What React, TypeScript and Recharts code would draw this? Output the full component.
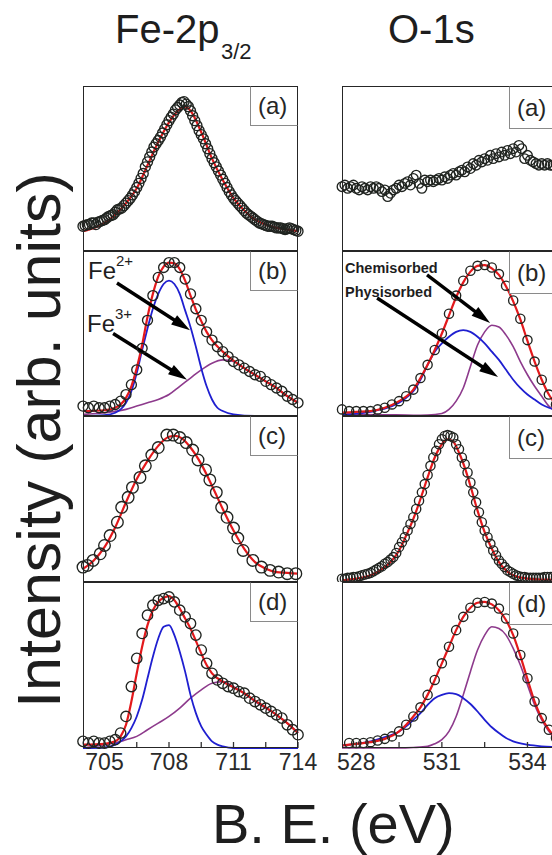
import React from 'react';
import { ComposedChart, Line, XAxis, YAxis, ReferenceLine } from 'recharts';

type P = [number, number];

// ---------- axes ----------
const feDomain: [number, number] = [704, 714];
const oDomain: [number, number] = [527.5, 535];
const feTicks = [705, 706.5, 708, 709.5, 711, 712.5, 714];
const feTickLabels = [705, 708, 711, 714];
const oTicks = [528, 529.5, 531, 532.5, 534];
const oTickLabels = [528, 531, 534];
const panelLabels = ['(a)', '(b)', '(c)', '(d)'];

// ---------- Fe-2p3/2 ----------
const feA_pts: P[] = [[704.0,0.15],[704.1,0.155],[704.2,0.16],[704.3,0.16],[704.4,0.17],[704.5,0.17],[704.6,0.16],[704.7,0.175],[704.8,0.18],[704.9,0.185],[705.0,0.19],[705.1,0.2],[705.2,0.21],[705.3,0.215],[705.4,0.22],[705.5,0.235],[705.6,0.25],[705.7,0.255],[705.8,0.26],[705.9,0.275],[706.0,0.29],[706.1,0.305],[706.2,0.32],[706.3,0.34],[706.4,0.36],[706.5,0.385],[706.6,0.41],[706.7,0.44],[706.8,0.47],[706.9,0.51],[707.0,0.54],[707.1,0.57],[707.2,0.60],[707.3,0.63],[707.4,0.65],[707.5,0.67],[707.6,0.69],[707.7,0.715],[707.8,0.74],[707.9,0.765],[708.0,0.79],[708.1,0.81],[708.2,0.83],[708.3,0.855],[708.4,0.87],[708.5,0.885],[708.6,0.90],[708.7,0.905],[708.8,0.89],[708.9,0.875],[709.0,0.85],[709.1,0.82],[709.2,0.79],[709.3,0.76],[709.4,0.73],[709.5,0.705],[709.6,0.68],[709.7,0.65],[709.8,0.62],[709.9,0.59],[710.0,0.56],[710.1,0.535],[710.2,0.51],[710.3,0.485],[710.4,0.46],[710.5,0.435],[710.6,0.41],[710.7,0.385],[710.8,0.36],[710.9,0.34],[711.0,0.32],[711.1,0.305],[711.2,0.29],[711.3,0.275],[711.4,0.26],[711.5,0.245],[711.6,0.23],[711.7,0.22],[711.8,0.21],[711.9,0.20],[712.0,0.19],[712.1,0.18],[712.2,0.17],[712.3,0.165],[712.4,0.16],[712.5,0.155],[712.6,0.15],[712.7,0.15],[712.8,0.15],[712.9,0.145],[713.0,0.14],[713.1,0.14],[713.2,0.14],[713.3,0.135],[713.4,0.13],[713.5,0.135],[713.6,0.14],[713.7,0.135],[713.8,0.13],[713.9,0.125],[714.0,0.12]];
const feA_fit: P[] = [[704.0,0.12],[704.5,0.14],[705.0,0.17],[705.5,0.22],[706.0,0.29],[706.5,0.38],[707.0,0.52],[707.5,0.66],[708.0,0.78],[708.5,0.86],[708.75,0.875],[709.0,0.85],[709.5,0.72],[710.0,0.56],[710.5,0.43],[711.0,0.32],[711.5,0.245],[712.0,0.19],[712.5,0.16],[713.0,0.14],[713.5,0.13],[714.0,0.12]];

const feB_pts: P[] = [[704.0,0.06],[704.25,0.05],[704.5,0.06],[704.75,0.05],[705.0,0.05],[705.25,0.06],[705.5,0.07],[705.75,0.09],[706.0,0.13],[706.25,0.19],[706.5,0.28],[706.75,0.41],[707.0,0.58],[707.25,0.73],[707.5,0.84],[707.75,0.90],[708.0,0.93],[708.25,0.93],[708.5,0.90],[708.75,0.83],[709.0,0.74],[709.25,0.65],[709.5,0.58],[709.75,0.51],[710.0,0.46],[710.25,0.42],[710.5,0.39],[710.75,0.36],[711.0,0.33],[711.25,0.31],[711.5,0.29],[711.75,0.27],[712.0,0.25],[712.25,0.24],[712.5,0.21],[712.75,0.19],[713.0,0.17],[713.25,0.15],[713.5,0.12],[713.75,0.10],[714.0,0.08]];
const feB_fit: P[] = [[704.0,0.03],[705.0,0.035],[705.5,0.05],[706.0,0.11],[706.25,0.18],[706.5,0.29],[706.75,0.43],[707.0,0.60],[707.25,0.74],[707.5,0.845],[707.75,0.905],[708.0,0.93],[708.25,0.925],[708.5,0.89],[708.75,0.82],[709.0,0.73],[709.25,0.645],[709.5,0.575],[709.75,0.51],[710.0,0.46],[710.5,0.39],[711.0,0.335],[711.5,0.29],[712.0,0.25],[712.5,0.21],[713.0,0.17],[713.5,0.12],[714.0,0.08]];
const feB_fe2: P[] = [[704.0,0],[705.0,0.005],[705.5,0.02],[705.75,0.04],[706.0,0.08],[706.25,0.15],[706.5,0.26],[706.75,0.40],[707.0,0.53],[707.25,0.65],[707.5,0.74],[707.75,0.80],[708.0,0.82],[708.25,0.80],[708.5,0.74],[708.75,0.64],[709.0,0.54],[709.25,0.42],[709.5,0.29],[709.75,0.18],[710.0,0.10],[710.25,0.05],[710.5,0.03],[711.0,0.01],[712.0,0],[714.0,0]];
const feB_fe3: P[] = [[704.0,0.01],[705.0,0.02],[706.0,0.04],[706.5,0.06],[707.0,0.08],[707.5,0.10],[708.0,0.13],[708.5,0.18],[709.0,0.23],[709.5,0.28],[710.0,0.32],[710.5,0.34],[711.0,0.33],[711.5,0.29],[712.0,0.25],[712.5,0.21],[713.0,0.17],[713.5,0.12],[714.0,0.08]];

const feC_pts: P[] = [[704.0,0.09],[704.2,0.10],[704.47,0.13],[704.8,0.17],[705.0,0.22],[705.26,0.28],[705.6,0.36],[705.8,0.45],[706.1,0.51],[706.3,0.57],[706.65,0.63],[706.9,0.70],[707.2,0.765],[707.5,0.81],[707.9,0.885],[708.2,0.885],[708.5,0.87],[708.8,0.84],[709.1,0.795],[709.35,0.735],[709.7,0.675],[709.9,0.615],[710.2,0.54],[710.45,0.45],[710.7,0.39],[711.0,0.325],[711.2,0.265],[711.45,0.19],[711.9,0.13],[712.3,0.09],[712.7,0.07],[713.1,0.06],[713.5,0.05],[713.9,0.05]];
const feC_fit: P[] = [[704.0,0.08],[704.5,0.13],[705.0,0.21],[705.5,0.33],[706.0,0.48],[706.5,0.62],[707.0,0.73],[707.5,0.82],[708.0,0.875],[708.3,0.88],[708.6,0.865],[709.0,0.81],[709.5,0.71],[710.0,0.58],[710.5,0.44],[711.0,0.31],[711.5,0.20],[712.0,0.12],[712.5,0.08],[713.0,0.06],[713.5,0.055],[714.0,0.05]];

const feD_pts: P[] = [[704.0,0.04],[704.25,0.03],[704.5,0.04],[704.75,0.03],[705.0,0.03],[705.25,0.04],[705.5,0.05],[705.75,0.09],[706.0,0.19],[706.25,0.37],[706.5,0.54],[706.75,0.69],[707.0,0.80],[707.25,0.86],[707.5,0.89],[707.75,0.90],[708.0,0.91],[708.25,0.88],[708.5,0.83],[708.75,0.79],[709.0,0.75],[709.25,0.68],[709.5,0.59],[709.75,0.51],[710.0,0.45],[710.25,0.41],[710.5,0.39],[710.75,0.37],[711.0,0.36],[711.25,0.34],[711.5,0.33],[711.75,0.30],[712.0,0.28],[712.25,0.26],[712.5,0.24],[712.75,0.22],[713.0,0.20],[713.25,0.18],[713.5,0.14],[713.75,0.11],[714.0,0.08]];
const feD_fit: P[] = [[704.0,0.02],[705.0,0.025],[705.5,0.04],[705.75,0.07],[706.0,0.14],[706.25,0.28],[706.5,0.45],[706.75,0.61],[707.0,0.74],[707.25,0.83],[707.5,0.88],[707.75,0.905],[708.0,0.915],[708.25,0.89],[708.5,0.84],[708.75,0.78],[709.0,0.72],[709.25,0.645],[709.5,0.57],[709.75,0.50],[710.0,0.45],[710.5,0.40],[711.0,0.365],[711.5,0.33],[712.0,0.285],[712.5,0.245],[713.0,0.20],[713.5,0.15],[714.0,0.09]];
const feD_fe2: P[] = [[704.0,0],[705.0,0.003],[705.5,0.02],[705.75,0.04],[706.0,0.07],[706.25,0.12],[706.5,0.19],[706.75,0.29],[707.0,0.42],[707.25,0.55],[707.5,0.66],[707.75,0.73],[708.0,0.74],[708.25,0.68],[708.5,0.58],[708.75,0.46],[709.0,0.32],[709.25,0.21],[709.5,0.13],[709.75,0.08],[710.0,0.04],[710.25,0.02],[710.5,0.01],[711.0,0],[714.0,0]];
const feD_fe3: P[] = [[704.0,0.0],[705.0,0.02],[705.5,0.03],[706.0,0.05],[706.5,0.07],[707.0,0.11],[707.5,0.15],[708.0,0.19],[708.5,0.24],[709.0,0.30],[709.5,0.35],[710.0,0.39],[710.5,0.40],[711.0,0.37],[711.5,0.33],[712.0,0.28],[712.5,0.24],[713.0,0.20],[713.5,0.15],[714.0,0.09]];

// ---------- O-1s ----------
const oA_pts: P[] = [[527.5,0.39],[527.6,0.40],[527.7,0.38],[527.8,0.39],[527.9,0.40],[528.0,0.38],[528.1,0.37],[528.2,0.39],[528.3,0.38],[528.4,0.37],[528.5,0.39],[528.6,0.38],[528.7,0.39],[528.8,0.38],[528.9,0.36],[529.0,0.37],[529.1,0.33],[529.2,0.35],[529.3,0.37],[529.4,0.38],[529.5,0.40],[529.6,0.39],[529.7,0.41],[529.8,0.42],[529.9,0.40],[530.0,0.44],[530.1,0.46],[530.2,0.41],[530.3,0.38],[530.4,0.43],[530.5,0.42],[530.6,0.43],[530.7,0.42],[530.8,0.43],[530.9,0.44],[531.0,0.43],[531.1,0.45],[531.2,0.44],[531.3,0.46],[531.4,0.47],[531.5,0.46],[531.6,0.48],[531.7,0.49],[531.8,0.48],[531.9,0.51],[532.0,0.50],[532.1,0.53],[532.2,0.52],[532.3,0.55],[532.4,0.54],[532.5,0.56],[532.6,0.55],[532.7,0.58],[532.8,0.56],[532.9,0.59],[533.0,0.57],[533.1,0.60],[533.2,0.58],[533.3,0.61],[533.4,0.59],[533.5,0.62],[533.6,0.60],[533.7,0.64],[533.8,0.62],[533.9,0.56],[534.0,0.58],[534.1,0.55],[534.2,0.54],[534.3,0.53],[534.4,0.52],[534.5,0.53],[534.6,0.52],[534.7,0.53],[534.8,0.52],[534.9,0.52],[535.0,0.53]];

const oB_pts: P[] = [[527.5,0.04],[527.75,0.03],[528.0,0.03],[528.25,0.03],[528.5,0.03],[528.75,0.04],[529.0,0.05],[529.25,0.07],[529.5,0.09],[529.75,0.12],[530.0,0.16],[530.25,0.23],[530.5,0.31],[530.75,0.40],[531.0,0.50],[531.25,0.62],[531.5,0.73],[531.75,0.82],[532.0,0.88],[532.25,0.91],[532.5,0.915],[532.75,0.90],[533.0,0.86],[533.25,0.79],[533.5,0.70],[533.75,0.59],[534.0,0.46],[534.25,0.33],[534.5,0.22],[534.75,0.13],[535.0,0.07]];
const oB_fit: P[] = [[527.5,0.02],[528.0,0.025],[528.5,0.03],[529.0,0.05],[529.5,0.09],[530.0,0.16],[530.25,0.23],[530.5,0.31],[530.75,0.40],[531.0,0.50],[531.25,0.61],[531.5,0.72],[531.75,0.81],[532.0,0.875],[532.25,0.91],[532.5,0.915],[532.75,0.895],[533.0,0.855],[533.25,0.785],[533.5,0.695],[533.75,0.585],[534.0,0.455],[534.25,0.33],[534.5,0.22],[534.75,0.13],[535.0,0.07]];
const oB_phys: P[] = [[527.5,0.01],[528.0,0.015],[528.5,0.025],[528.75,0.035],[529.0,0.045],[529.25,0.06],[529.5,0.08],[529.75,0.11],[530.0,0.15],[530.25,0.22],[530.5,0.31],[530.75,0.39],[531.0,0.44],[531.25,0.48],[531.5,0.51],[531.75,0.52],[532.0,0.51],[532.25,0.48],[532.5,0.44],[532.75,0.39],[533.0,0.34],[533.25,0.28],[533.5,0.22],[533.75,0.17],[534.0,0.13],[534.25,0.10],[534.5,0.07],[534.75,0.05],[535.0,0.035]];
const oB_chem: P[] = [[527.5,0.01],[529.0,0.008],[530.0,0.005],[530.5,0.006],[531.0,0.015],[531.25,0.04],[531.5,0.09],[531.75,0.17],[532.0,0.30],[532.25,0.43],[532.5,0.51],[532.75,0.55],[533.0,0.54],[533.25,0.49],[533.5,0.42],[533.75,0.33],[534.0,0.25],[534.25,0.18],[534.5,0.12],[534.75,0.06],[535.0,0.03]];

const oC_pts: P[] = [[527.5,0.02],[527.6,0.02],[527.7,0.025],[527.8,0.025],[527.9,0.03],[528.0,0.03],[528.1,0.035],[528.2,0.04],[528.3,0.045],[528.4,0.05],[528.5,0.055],[528.6,0.065],[528.7,0.075],[528.8,0.085],[528.9,0.095],[529.0,0.11],[529.1,0.12],[529.2,0.135],[529.3,0.15],[529.4,0.175],[529.5,0.21],[529.6,0.24],[529.7,0.27],[529.8,0.31],[529.9,0.35],[530.0,0.39],[530.1,0.44],[530.2,0.49],[530.3,0.54],[530.4,0.59],[530.5,0.645],[530.6,0.70],[530.7,0.75],[530.8,0.79],[530.9,0.83],[531.0,0.86],[531.1,0.88],[531.2,0.885],[531.3,0.88],[531.4,0.87],[531.5,0.83],[531.6,0.80],[531.7,0.75],[531.8,0.71],[531.9,0.66],[532.0,0.60],[532.1,0.54],[532.2,0.48],[532.3,0.42],[532.4,0.36],[532.5,0.31],[532.6,0.27],[532.7,0.23],[532.8,0.19],[532.9,0.16],[533.0,0.13],[533.1,0.11],[533.2,0.09],[533.3,0.07],[533.4,0.06],[533.5,0.05],[533.6,0.04],[533.7,0.035],[533.8,0.03],[533.9,0.03],[534.0,0.025],[534.1,0.025],[534.2,0.025],[534.3,0.025],[534.4,0.025],[534.5,0.025],[534.6,0.03],[534.7,0.03],[534.8,0.03],[534.9,0.03],[535.0,0.03]];
const oC_fit: P[] = [[527.5,0.01],[528.0,0.02],[528.5,0.04],[529.0,0.09],[529.25,0.13],[529.5,0.19],[529.75,0.28],[530.0,0.38],[530.25,0.50],[530.5,0.63],[530.75,0.75],[531.0,0.83],[531.2,0.86],[531.4,0.845],[531.6,0.78],[531.8,0.69],[532.0,0.58],[532.25,0.43],[532.5,0.30],[532.75,0.20],[533.0,0.12],[533.25,0.07],[533.5,0.04],[534.0,0.02],[534.5,0.015],[535.0,0.015]];

const oD_pts: P[] = [[527.75,0.03],[528.0,0.03],[528.25,0.03],[528.5,0.035],[528.75,0.045],[529.0,0.055],[529.25,0.07],[529.5,0.10],[529.75,0.14],[530.0,0.19],[530.25,0.245],[530.5,0.32],[530.75,0.41],[531.0,0.51],[531.25,0.61],[531.5,0.71],[531.75,0.79],[532.0,0.845],[532.25,0.875],[532.5,0.88],[532.75,0.87],[533.0,0.84],[533.25,0.78],[533.5,0.69],[533.75,0.56],[534.0,0.42],[534.25,0.28],[534.5,0.18],[534.75,0.11],[535.0,0.06]];
const oD_fit: P[] = [[527.5,0.015],[528.0,0.025],[528.5,0.035],[529.0,0.055],[529.5,0.10],[529.75,0.14],[530.0,0.19],[530.25,0.245],[530.5,0.32],[530.75,0.41],[531.0,0.51],[531.25,0.61],[531.5,0.71],[531.75,0.79],[532.0,0.845],[532.25,0.875],[532.5,0.88],[532.75,0.865],[533.0,0.83],[533.25,0.77],[533.5,0.68],[533.75,0.555],[534.0,0.415],[534.25,0.28],[534.5,0.18],[534.75,0.11],[535.0,0.06]];
const oD_phys: P[] = [[527.5,0.015],[528.0,0.025],[528.5,0.04],[529.0,0.065],[529.5,0.10],[529.75,0.13],[530.0,0.17],[530.25,0.21],[530.5,0.26],[530.75,0.30],[531.0,0.32],[531.25,0.33],[531.5,0.325],[531.75,0.30],[532.0,0.265],[532.25,0.22],[532.5,0.17],[532.75,0.125],[533.0,0.09],[533.25,0.06],[533.5,0.04],[534.0,0.02],[534.5,0.01],[535.0,0.005]];
const oD_chem: P[] = [[527.5,0],[529.5,0],[530.0,0.003],[530.5,0.01],[530.75,0.025],[531.0,0.05],[531.25,0.10],[531.5,0.19],[531.75,0.32],[532.0,0.46],[532.25,0.59],[532.5,0.68],[532.75,0.73],[533.0,0.72],[533.25,0.68],[533.5,0.60],[533.75,0.50],[534.0,0.38],[534.25,0.26],[534.5,0.17],[534.75,0.10],[535.0,0.05]];

// ---------- annotation arrows (data coordinates of panel b) ----------
const feArrows: { from: P; to: P }[] = [
  { from: [705.58, 0.806], to: [708.98, 0.52] },
  { from: [705.4, 0.5], to: [708.84, 0.22] },
];
const oArrows: { from: P; to: P }[] = [
  { from: [530.48, 0.855], to: [532.69, 0.564] },
  { from: [528.73, 0.715], to: [532.97, 0.236] },
];

// ---------- style ----------
const RED = '#e3191c';
const BLUE = '#1f1fd0';
const PURPLE = '#8d3a8c';
const FONT = '"Liberation Sans", Arial, Helvetica, sans-serif';
const INK = '#1e1e1e';
const PAD = 24;

const toObj = (pts: P[]) => pts.map(([x, y]) => ({ x, y }));

const ArrowShape = (props: any) => {
  const { x1, y1, x2, y2 } = props;
  const dx = x2 - x1;
  const dy = y2 - y1;
  const len = Math.hypot(dx, dy) || 1;
  const ux = dx / len;
  const uy = dy / len;
  const hl = 19;
  const hw = 5.5;
  const bx = x2 - ux * hl;
  const by = y2 - uy * hl;
  const px = -uy;
  const py = ux;
  return (
    <g>
      <line x1={x1} y1={y1} x2={bx + ux * 2} y2={by + uy * 2} stroke="#000" strokeWidth={3.4} />
      <polygon
        points={`${x2},${y2} ${bx + px * hw},${by + py * hw} ${bx - px * hw},${by - py * hw}`}
        fill="#000"
      />
    </g>
  );
};

type Fit = { pts: P[]; color: string; width: number };

type PanelProps = {
  left: number;
  top: number;
  width: number;
  height: number;
  domain: [number, number];
  ticks: number[];
  tickLabels: number[];
  showLabels: boolean;
  pts: P[];
  r: number;
  fits: Fit[];
  arrows?: { from: P; to: P }[];
  label: string;
  labelW: number;
  labelH: number;
};

function Panel(p: PanelProps) {
  const axisH = p.showLabels ? 34 : 0;
  const renderTick = (props: any) => {
    const { x, y, payload } = props;
    const show = p.showLabels && p.tickLabels.includes(payload.value);
    return (
      <g>
        <line x1={x} x2={x} y1={y} y2={y - 6} stroke="#333" strokeWidth={1.3} />
        {show && (
          <text x={x} y={y + 22} textAnchor="middle" fontSize={23} fontFamily={FONT} fill="#2a2a2a">
            {payload.value}
          </text>
        )}
      </g>
    );
  };
  return (
    <div
      style={{
        position: 'absolute',
        left: p.left - PAD,
        top: p.top,
        width: p.width + 2 * PAD,
        height: p.height + axisH,
      }}
    >
      <ComposedChart
        width={p.width + 2 * PAD}
        height={p.height + axisH}
        margin={{ top: 0, right: PAD, bottom: 0, left: PAD }}
      >
        <XAxis
          type="number"
          dataKey="x"
          domain={p.domain}
          ticks={p.ticks}
          interval={0}
          height={axisH}
          axisLine={false}
          tickLine={false}
          tickSize={0}
          tickMargin={0}
          tick={renderTick}
        />
        <YAxis type="number" dataKey="y" domain={[0, 1]} hide />
        <Line
          data={toObj(p.pts)}
          dataKey="y"
          stroke="none"
          isAnimationActive={false}
          dot={{ r: p.r, fill: 'none', stroke: '#202420', strokeWidth: 1.35 }}
          activeDot={false}
        />
        {p.fits.map((f, i) => (
          <Line
            key={i}
            data={toObj(f.pts)}
            dataKey="y"
            type="monotone"
            stroke={f.color}
            strokeWidth={f.width}
            dot={false}
            activeDot={false}
            isAnimationActive={false}
          />
        ))}
        {(p.arrows || []).map((a, i) => (
          <ReferenceLine
            key={'ar' + i}
            segment={[
              { x: a.from[0], y: a.from[1] },
              { x: a.to[0], y: a.to[1] },
            ]}
            shape={ArrowShape}
            ifOverflow="visible"
          />
        ))}
      </ComposedChart>
      <div
        style={{
          position: 'absolute',
          left: PAD,
          top: 0,
          width: p.width,
          height: p.height,
          border: '1.7px solid #262626',
          boxSizing: 'border-box',
          pointerEvents: 'none',
        }}
      />
      <div
        style={{
          position: 'absolute',
          left: PAD + p.width - p.labelW,
          top: 0,
          width: p.labelW,
          height: p.labelH,
          border: '1px solid #8a8a8a',
          borderRight: '1.7px solid #262626',
          borderTop: '1.7px solid #262626',
          background: '#fff',
          boxSizing: 'border-box',
          fontFamily: FONT,
          fontSize: 24,
          color: '#262626',
          lineHeight: p.labelH - 2 + 'px',
          paddingLeft: 7,
          whiteSpace: 'nowrap',
        }}
      >
        {p.label}
      </div>
    </div>
  );
}

const rowTops = [86, 251, 416, 582];
const rowHeights = [165, 165, 166, 166];
const FE_LEFT = 83;
const FE_W = 215;
const O_LEFT = 342;
const O_W = 214;

const feData = [
  { pts: feA_pts, r: 5, fits: [{ pts: feA_fit, color: RED, width: 2.2 }] },
  {
    pts: feB_pts,
    r: 5,
    fits: [
      { pts: feB_fe3, color: PURPLE, width: 1.6 },
      { pts: feB_fe2, color: BLUE, width: 1.8 },
      { pts: feB_fit, color: RED, width: 2.2 },
    ],
    arrows: feArrows,
  },
  { pts: feC_pts, r: 5.8, fits: [{ pts: feC_fit, color: RED, width: 2.2 }] },
  {
    pts: feD_pts,
    r: 5.2,
    fits: [
      { pts: feD_fe3, color: PURPLE, width: 1.6 },
      { pts: feD_fe2, color: BLUE, width: 1.8 },
      { pts: feD_fit, color: RED, width: 2.2 },
    ],
  },
];

const oData = [
  { pts: oA_pts, r: 4.8, fits: [] as Fit[] },
  {
    pts: oB_pts,
    r: 4.6,
    fits: [
      { pts: oB_chem, color: PURPLE, width: 1.6 },
      { pts: oB_phys, color: BLUE, width: 1.8 },
      { pts: oB_fit, color: RED, width: 2.2 },
    ],
    arrows: oArrows,
  },
  { pts: oC_pts, r: 4.6, fits: [{ pts: oC_fit, color: RED, width: 2.2 }] },
  {
    pts: oD_pts,
    r: 4.6,
    fits: [
      { pts: oD_chem, color: PURPLE, width: 1.6 },
      { pts: oD_phys, color: BLUE, width: 1.8 },
      { pts: oD_fit, color: RED, width: 2.2 },
    ],
  },
];

export default function App() {
  return (
    <div
      style={{
        position: 'absolute',
        left: 0,
        top: 0,
        width: 552,
        height: 855,
        overflow: 'hidden',
        background: '#fff',
        fontFamily: FONT,
      }}
    >
      {feData.map((d, i) => (
        <Panel
          key={'fe' + i}
          left={FE_LEFT}
          top={rowTops[i]}
          width={FE_W}
          height={rowHeights[i]}
          domain={feDomain}
          ticks={feTicks}
          tickLabels={feTickLabels}
          showLabels={i === 3}
          pts={d.pts}
          r={d.r}
          fits={d.fits}
          arrows={(d as any).arrows}
          label={panelLabels[i]}
          labelW={48}
          labelH={40}
        />
      ))}
      {oData.map((d, i) => (
        <Panel
          key={'o' + i}
          left={O_LEFT}
          top={rowTops[i]}
          width={O_W}
          height={rowHeights[i]}
          domain={oDomain}
          ticks={oTicks}
          tickLabels={oTickLabels}
          showLabels={i === 3}
          pts={d.pts}
          r={d.r}
          fits={d.fits}
          arrows={(d as any).arrows}
          label={panelLabels[i]}
          labelW={47}
          labelH={43}
        />
      ))}
      <svg
        width={552}
        height={855}
        style={{ position: 'absolute', left: 0, top: 0, pointerEvents: 'none' }}
        fontFamily={FONT}
      >
        <text x={115} y={43} fontSize={40} fill={INK}>Fe-2p</text>
        <text x={221} y={59} fontSize={22} fill={INK}>3/2</text>
        <text x={388} y={43} fontSize={40} fill={INK}>O-1s</text>
        <text x={212} y={843} fontSize={56} fill={INK}>B. E. (eV)</text>
        <text
          transform="translate(60,440) rotate(-90)"
          textAnchor="middle"
          fontSize={61}
          fill={INK}
        >
          Intensity (arb. units)
        </text>
        <text x={88} y={279} fontSize={24} fill={INK}>Fe</text>
        <text x={116} y={266} fontSize={15} fill={INK}>2+</text>
        <text x={87} y={332} fontSize={24} fill={INK}>Fe</text>
        <text x={115} y={319} fontSize={15} fill={INK}>3+</text>
        <text x={345} y={273} fontSize={14.5} fontWeight="bold" fill={INK}>Chemisorbed</text>
        <text x={345} y={297} fontSize={14.5} fontWeight="bold" fill={INK}>Physisorbed</text>
      </svg>
    </div>
  );
}
